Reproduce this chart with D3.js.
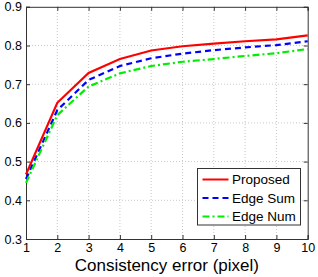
<!DOCTYPE html>
<html><head><meta charset="utf-8">
<script src="https://cdn.jsdelivr.net/npm/d3@7"></script>
<style>body{margin:0;background:#fff}svg{display:block}</style>
</head><body>
<script>
const xValues = [1,2,3,4,5,6,7,8,9,10];
const proposed = [0.467,0.652,0.729,0.765,0.787,0.798,0.805,0.811,0.816,0.826];
const edgeSum  = [0.455,0.633,0.711,0.747,0.767,0.779,0.788,0.795,0.801,0.811];
const edgeNum  = [0.445,0.620,0.694,0.728,0.747,0.758,0.765,0.773,0.780,0.791];
const seriesNames = ["Proposed","Edge Sum","Edge Num"];
const xTicks = [1,2,3,4,5,6,7,8,9,10];
const yTicks = [0.3,0.4,0.5,0.6,0.7,0.8,0.9];
const xTitle = "Consistency error (pixel)";

const W=318,H=277;
const m={l:26,r:10.3,t:6.8,b:38};
const svg=d3.select("body").append("svg").attr("width",W).attr("height",H);
const x=d3.scaleLinear().domain([1,10]).range([m.l,W-m.r]);
const y=d3.scaleLinear().domain([0.3,0.9]).range([H-m.b,m.t]);
const font="Liberation Sans, Arial, Helvetica, sans-serif";

// grid
const g=svg.append("g");
g.selectAll(".gx").data(xTicks.slice(1,-1)).enter().append("line")
 .attr("x1",d=>x(d)).attr("x2",d=>x(d)).attr("y1",y(0.3)).attr("y2",y(0.9))
 .attr("stroke","#c8c8c8").attr("stroke-width",1).attr("stroke-dasharray","1,2");
g.selectAll(".gy").data(yTicks.slice(1,-1)).enter().append("line")
 .attr("y1",d=>y(d)).attr("y2",d=>y(d)).attr("x1",x(1)).attr("x2",x(10))
 .attr("stroke","#c8c8c8").attr("stroke-width",1).attr("stroke-dasharray","1,2");

// axes
const axB=svg.append("g").attr("transform",`translate(0,${y(0.3)})`)
 .call(d3.axisBottom(x).tickValues(xTicks).tickSize(-4).tickPadding(4).tickFormat(d3.format("d")));
const axL=svg.append("g").attr("transform",`translate(${x(1)},0)`)
 .call(d3.axisLeft(y).tickValues(yTicks).tickSize(-4).tickPadding(4).tickFormat(d3.format(".1f")));
const axT=svg.append("g").attr("transform",`translate(0,${y(0.9)})`)
 .call(d3.axisTop(x).tickValues(xTicks).tickSize(-4).tickFormat(""));
const axR=svg.append("g").attr("transform",`translate(${x(10)},0)`)
 .call(d3.axisRight(y).tickValues(yTicks).tickSize(-4).tickFormat(""));
[axB,axL,axT,axR].forEach(a=>{
  a.selectAll("path").attr("stroke","#333").attr("stroke-width",1);
  a.selectAll("line").attr("stroke","#333");
  a.selectAll("text").attr("fill","#000").style("font-family",font).style("font-size","12.5px");
});

// lines
const series=[
 {name:seriesNames[0],vals:proposed,color:"#ff0000",dash:null},
 {name:seriesNames[1],vals:edgeSum,color:"#0000ff",dash:"6,4"},
 {name:seriesNames[2],vals:edgeNum,color:"#00ee00",dash:"7,3,2,3"}
];
const line=d3.line().x((d,i)=>x(xValues[i])).y(d=>y(d));
series.forEach(s=>{
  svg.append("path").datum(s.vals).attr("d",line).attr("fill","none")
   .attr("stroke",s.color).attr("stroke-width",2.2)
   .attr("stroke-dasharray",s.dash);
});

// legend
const lg=svg.append("g");
lg.append("rect").attr("x",197.5).attr("y",168.5).attr("width",103).attr("height",56.5)
 .attr("fill","#fff").attr("stroke","#333").attr("stroke-width",1);
const ly=[179.5,198,216.5];
series.forEach((s,i)=>{
  lg.append("line").attr("x1",202.5).attr("x2",228.5).attr("y1",ly[i]).attr("y2",ly[i])
   .attr("stroke",s.color).attr("stroke-width",2).attr("stroke-dasharray",s.dash);
  lg.append("text").attr("x",232).attr("y",ly[i]).attr("dy","0.35em")
   .style("font-family",font).style("font-size","13.5px").text(s.name);
});

svg.append("text").attr("x",(x(1)+x(10))/2).attr("y",271).attr("text-anchor","middle")
 .style("font-family",font).style("font-size","17px").text(xTitle);
</script>
</body></html>
